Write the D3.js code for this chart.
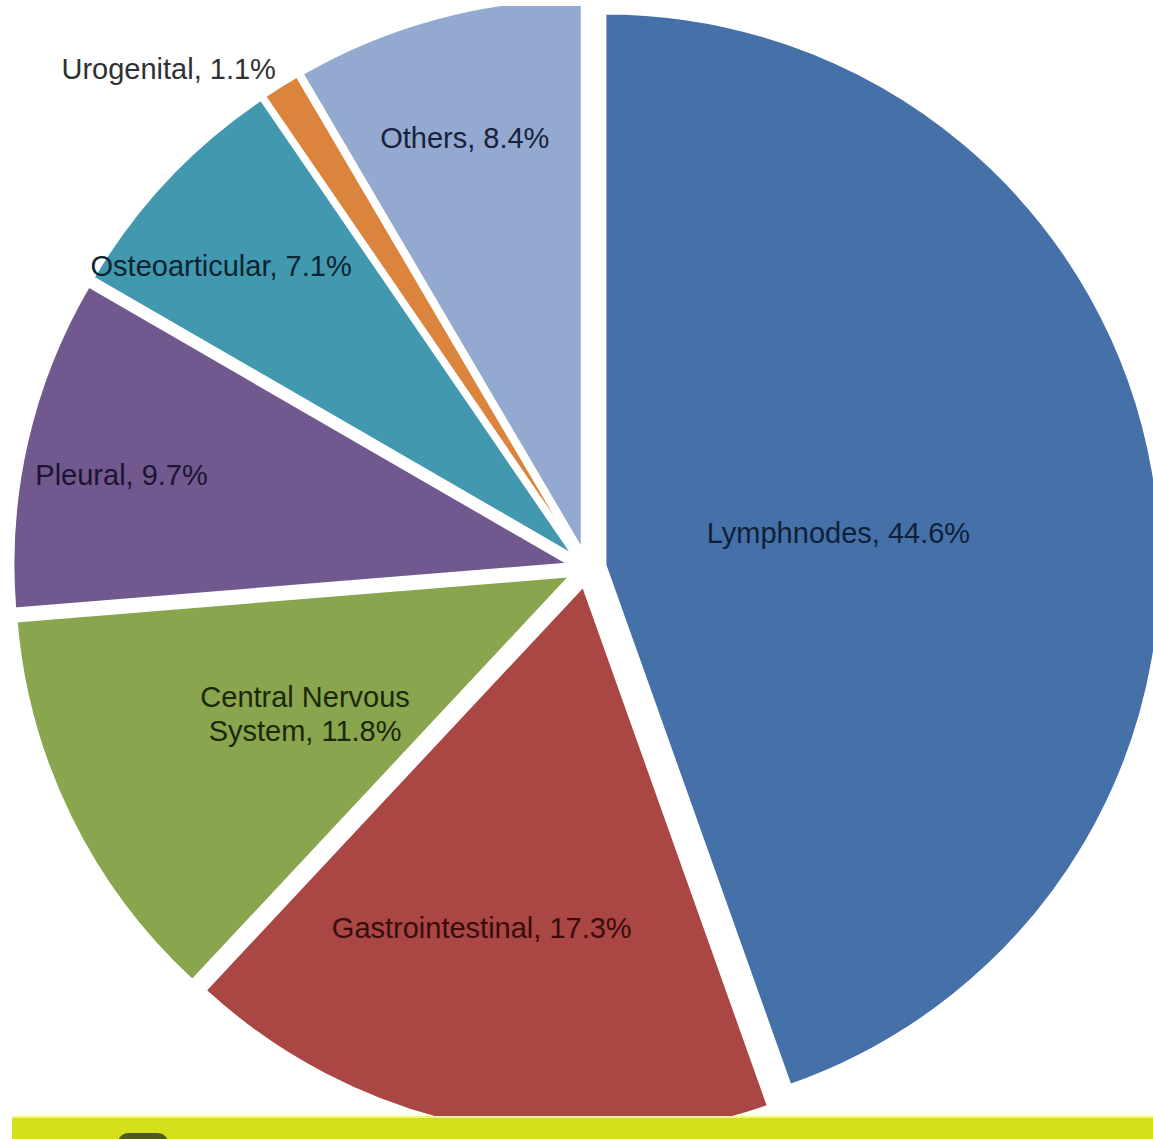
<!DOCTYPE html>
<html>
<head>
<meta charset="utf-8">
<script src="https://cdn.jsdelivr.net/npm/d3@7"></script>
<style>
  html, body { margin: 0; padding: 0; background: #ffffff; }
  svg { display: block; }
  text { font-family: "Liberation Sans", Arial, sans-serif; }
</style>
</head>
<body>
<svg id="chart" width="1153" height="1139"></svg>
<script>
// ---- data ----
const categories = ["Lymphnodes", "Gastrointestinal", "Central Nervous System", "Pleural", "Osteoarticular", "Urogenital", "Others"];
const values = [44.6, 17.3, 11.8, 9.7, 7.1, 1.1, 8.4];
const labelLines = [
  ["Lymphnodes, 44.6%"],
  ["Gastrointestinal, 17.3%"],
  ["Central Nervous", "System, 11.8%"],
  ["Pleural, 9.7%"],
  ["Osteoarticular, 7.1%"],
  ["Urogenital, 1.1%"],
  ["Others, 8.4%"]
];

// ---- styles / layout ----
const colors = ["#4571a8", "#aa4643", "#89a54e", "#71588f", "#4198af", "#db843d", "#93a9cf"];
const textColors = ["#0f1f3a", "#3a0c0c", "#1c2808", "#1c1430", "#0b2430", "#303030", "#18223e"];
const labelRadius = [0.46, 0.68, 0.575, 0.86, 0.86, 1.18, 0.81];   // fraction of R from pie centre
const labelAngleNudge = [0.03, 0.08, -0.025, -0.025, -0.06, -0.135, -0.013]; // radians

const W = 1153, H = 1139;
const cx = 587, cy = 568, R = 552, explode = 18, stretchX = 1.008;

const svg = d3.select("#chart");

svg.append("defs").append("clipPath").attr("id", "plotclip")
  .append("rect").attr("x", 10).attr("y", 6).attr("width", W - 10).attr("height", 1117 - 6);

const pie = d3.pie().sort(null).value(d => d)(values);
const arc = d3.arc().innerRadius(0).outerRadius(R);

const outer = svg.append("g").attr("clip-path", "url(#plotclip)");
const g = outer.append("g")
  .attr("transform", `translate(${cx},${cy}) scale(${stretchX},1)`);

g.selectAll("path.slice")
  .data(pie)
  .join("path")
  .attr("class", "slice")
  .attr("d", arc)
  .attr("fill", (d, i) => colors[i])
  .attr("stroke", "#ffffff")
  .attr("stroke-width", 3)
  .attr("stroke-linejoin", "miter")
  .attr("transform", d => {
    const mid = (d.startAngle + d.endAngle) / 2;
    return `translate(${explode * Math.sin(mid)},${-explode * Math.cos(mid)})`;
  });

// labels
const lineH = 34;
const labels = svg.append("g");
pie.forEach((d, i) => {
  const mid = (d.startAngle + d.endAngle) / 2 + labelAngleNudge[i];
  const r = labelRadius[i] * R;
  const x = cx + r * Math.sin(mid);
  const y = cy - r * Math.cos(mid);
  const lines = labelLines[i];
  const t = labels.append("text")
    .attr("x", x)
    .attr("y", y - (lines.length - 1) * lineH / 2)
    .attr("text-anchor", "middle")
    .attr("dominant-baseline", "central")
    .attr("font-size", 29)
    .attr("fill", textColors[i]);
  lines.forEach((ln, j) => {
    t.append("tspan").attr("x", x).attr("dy", j === 0 ? 0 : lineH).text(ln);
  });
});

// bottom banner
svg.append("rect").attr("x", 12).attr("y", 1116).attr("width", W - 12).attr("height", 2).attr("fill", "#eef0a0");
svg.append("rect").attr("x", 12).attr("y", 1118).attr("width", W - 12).attr("height", H - 1118).attr("fill", "#d5e01c");
svg.append("rect").attr("x", 118).attr("y", 1133).attr("width", 50).attr("height", 20).attr("rx", 10).attr("fill", "#4e5a1a");
</script>
</body>
</html>
